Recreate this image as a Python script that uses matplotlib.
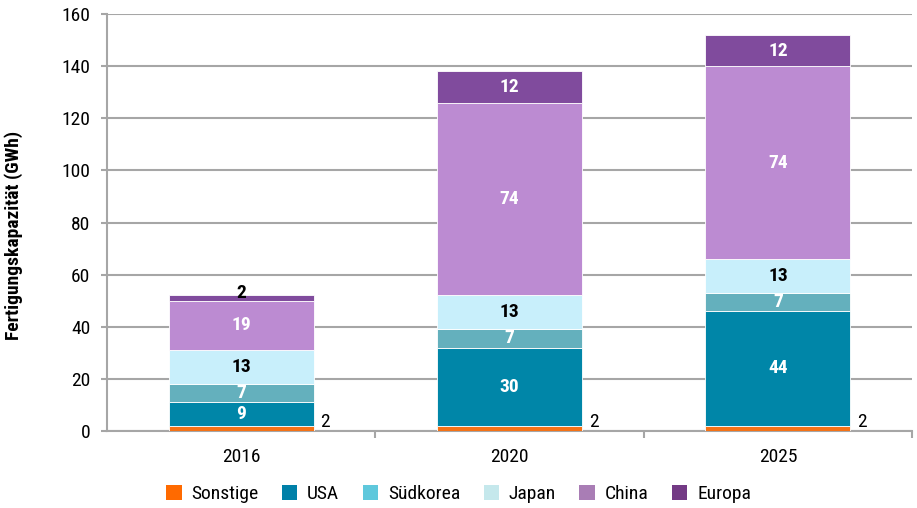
import matplotlib.pyplot as plt
from matplotlib.patches import Patch
import numpy as np

plt.rcParams['font.family'] = ['Roboto Condensed', 'DejaVu Sans']

years = ['2016', '2020', '2025']
sonstige = [2, 2, 2]
usa = [9, 30, 44]
suedkorea = [7, 7, 7]
japan = [13, 13, 13]
china = [19, 74, 74]
europa = [2, 12, 12]

series = [('Sonstige', sonstige), ('USA', usa), ('Südkorea', suedkorea),
          ('Japan', japan), ('China', china), ('Europa', europa)]
bar_colors = ['#F47216', '#0086A8', '#64B0BD', '#C8EFFB', '#BC8BD2', '#804B9D']
legend_colors = ['#FF6A00', '#0080A8', '#5FC8DC', '#C5E8EC', '#A97DB5', '#733A85']
label_colors = [None, 'white', 'white', 'black', 'white', 'white']

fig = plt.figure(figsize=(9.17, 5.08), dpi=100)
ax = fig.add_axes([0.1167, 0.1516, 0.878, 0.8208])

x = np.arange(len(years))
width = 0.54
bottom = np.zeros(len(years))
for (name, vals), col, lc in zip(series, bar_colors, label_colors):
    vals = np.array(vals, dtype=float)
    ax.bar(x, vals, width, bottom=bottom, color=col, edgecolor='white',
           linewidth=0.6, zorder=3)
    for i, v in enumerate(vals):
        if name == 'Sonstige':
            ax.text(x[i] + width / 2 + 0.025, 0.0, f'{int(v)}', ha='left', va='bottom',
                    fontsize=14, color='black')
        elif name == 'Europa' and v < 5:
            ax.text(x[i], bottom[i] + v + 0.8, f'{int(v)}', ha='center', va='center',
                    fontsize=14, color='black', fontweight='bold')
        else:
            ax.text(x[i], bottom[i] + v / 2, f'{int(v)}', ha='center', va='center',
                    fontsize=14, color=lc, fontweight='bold', zorder=4)
    bottom += vals

ax.set_xlim(-0.5, 2.5)
ax.set_ylim(0, 160)
ax.set_yticks(range(0, 161, 20))
ax.set_xticks(x)
ax.set_xticklabels(years)
ax.set_xticks([0.5, 1.5, 2.5], minor=True)
ax.grid(axis='y', color='#A6A6A6', linewidth=1.5, zorder=0)
ax.set_axisbelow(True)

for s in ['top', 'right']:
    ax.spines[s].set_visible(False)
for s in ['left', 'bottom']:
    ax.spines[s].set_color('#A6A6A6')
    ax.spines[s].set_linewidth(1.5)
ax.tick_params(axis='y', length=4, width=1.5, color='#A6A6A6', labelsize=14, pad=8)
ax.tick_params(axis='x', which='major', length=0, labelsize=14, pad=12)
ax.tick_params(axis='x', which='minor', length=5, width=1.5, color='#A6A6A6')

ax.set_ylabel('Fertigungskapazität (GWh)', fontsize=14, fontweight='bold')
ax.yaxis.set_label_coords(-0.104, 0.47)

handles = [Patch(facecolor=c, label=n) for (n, _), c in zip(series, legend_colors)]
fig.legend(handles=handles, loc='center', bbox_to_anchor=(0.5, 0.027), ncol=6,
           frameon=False, fontsize=14, handlelength=0.8, handleheight=0.8,
           handletextpad=0.5, columnspacing=1.2)

fig.savefig('out.png', dpi=100)
